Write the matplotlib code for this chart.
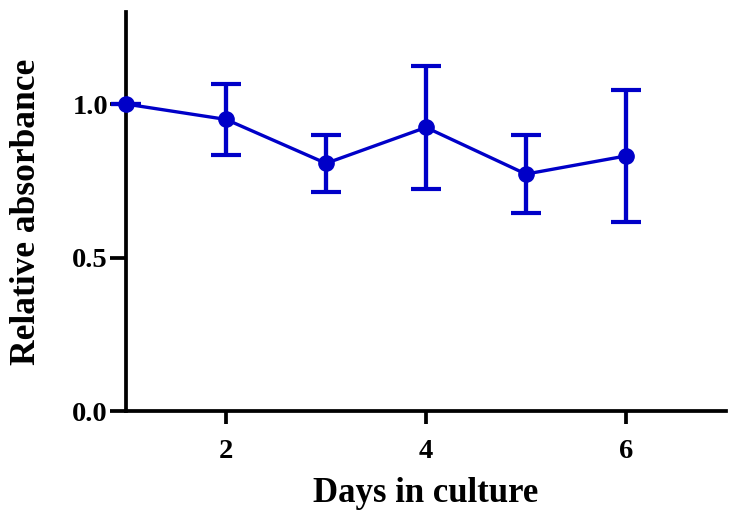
import matplotlib
matplotlib.use("Agg")
import matplotlib.pyplot as plt

days = [1, 2, 3, 4, 5, 6]
absorbance = [1.0, 0.950, 0.807, 0.924, 0.772, 0.831]
err_low = [0.0, 0.117, 0.095, 0.199, 0.126, 0.215]
err_high = [0.0, 0.114, 0.092, 0.200, 0.126, 0.215]
xticks = [2, 4, 6]
yticks = [0.0, 0.5, 1.0]
ytick_labels = ["0.0", "0.5", "1.0"]

plt.rcParams['font.family'] = ['Liberation Serif', 'DejaVu Serif']
plt.rcParams['font.weight'] = 'bold'

fig = plt.figure(figsize=(7.34, 5.21), dpi=100)
ax = fig.add_axes([0.1717, 0.211, 0.8173, 0.766])

color = '#0000C8'
ax.errorbar(days, absorbance, yerr=[err_low, err_high], color=color,
            linewidth=2.4, marker='o', markersize=11, capsize=11,
            capthick=3, elinewidth=3.1, clip_on=False, zorder=3)

ax.set_xlim(1, 7)
ax.set_ylim(0, 1.3)
ax.set_xticks(xticks)
ax.set_xticklabels([str(t) for t in xticks])
ax.set_yticks(yticks)
ax.set_yticklabels(ytick_labels)

for s in ['top', 'right']:
    ax.spines[s].set_visible(False)
for s in ['left', 'bottom']:
    ax.spines[s].set_linewidth(2.7)

ax.tick_params(axis='x', direction='out', length=9, width=2.7,
               labelsize=20.5, pad=11)
ax.tick_params(axis='y', direction='out', length=11.5, width=2.7,
               labelsize=20.5, pad=1.5)
for lab in ax.get_xticklabels() + ax.get_yticklabels():
    lab.set_fontweight('bold')

ax.set_xlabel('Days in culture', fontsize=25, fontweight='bold')
ax.set_ylabel('Relative absorbance', fontsize=25.5, fontweight='bold')
ax.xaxis.set_label_coords(0.5, -0.165)
ax.yaxis.set_label_coords(-0.139, 0.5)

fig.savefig('out.png', dpi=100)
